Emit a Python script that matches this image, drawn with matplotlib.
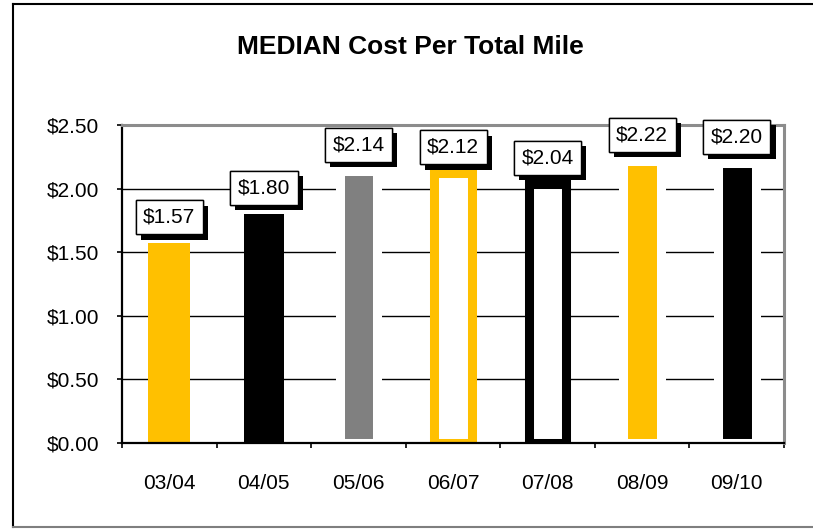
import matplotlib
matplotlib.use("Agg")
import matplotlib.pyplot as plt
import matplotlib.patheffects as pe
from matplotlib.lines import Line2D
import numpy as np

plt.rcParams['font.family'] = ['Liberation Sans', 'DejaVu Sans']

# ---- data ----
categories = ['03/04', '04/05', '05/06', '06/07', '07/08', '08/09', '09/10']
values = [1.57, 1.80, 2.14, 2.12, 2.04, 2.22, 2.20]
title = 'MEDIAN Cost Per Total Mile'
yticks = [0.0, 0.5, 1.0, 1.5, 2.0, 2.5]

# ---- styles (per bar) ----
GOLD = '#FFC000'
GRAY = '#808080'
faces = [GOLD, 'black', GRAY, 'white', 'white', GOLD, 'black']
edges = ['none', 'none', 'white', GOLD, 'black', 'white', 'white']
widths = [0.44, 0.42, 0.40, 0.40, 0.40, 0.40, 0.40]
lws = [0, 0, 6.5, 6.5, 6.5, 6.5, 6.5]

fig = plt.figure(figsize=(8.13, 5.30), dpi=100)
ax = fig.add_axes([122/813, 1-443/530, (784-122)/813, (443-125)/530])

x = np.arange(len(categories))
for i in range(len(categories)):
    ax.bar(x[i], values[i], width=widths[i], color=faces[i],
           edgecolor=edges[i], linewidth=lws[i], zorder=2)

ax.set_xlim(-0.5, len(categories) - 0.5)
ax.set_ylim(0, 2.5)
ax.set_yticks(yticks)
ax.set_yticklabels(['${:.2f}'.format(v) for v in yticks])
ax.set_xticks(x)
ax.set_xticklabels(categories)
ax.set_xticks(np.arange(-0.5, len(categories)), minor=True)

ax.tick_params(axis='y', direction='out', length=3.6, width=1.2, pad=13,
               labelsize=15, colors='black')
ax.tick_params(axis='x', which='major', length=0, pad=22, labelsize=15)
ax.tick_params(axis='x', which='minor', direction='out', length=3.6, width=1.2)

ax.set_axisbelow(True)
ax.yaxis.grid(True, color='black', linewidth=1.0, zorder=0)
ax.xaxis.grid(False)

for s in ['left', 'bottom']:
    ax.spines[s].set_color('black')
    ax.spines[s].set_linewidth(1.6)
    ax.spines[s].set_zorder(5)
for s in ['top', 'right']:
    ax.spines[s].set_color('#8c8c8c')
    ax.spines[s].set_linewidth(2.2)
    ax.spines[s].set_zorder(5)

# value labels
for i, v in enumerate(values):
    t = ax.annotate('${:.2f}'.format(v), xy=(x[i], v), xytext=(0, 26),
                    textcoords='offset pixels', ha='center', va='center',
                    fontsize=15, color='black', zorder=6,
                    bbox=dict(boxstyle='square,pad=0.36', fc='white',
                              ec='black', lw=1.0))
    t.get_bbox_patch().set_path_effects([
        pe.withSimplePatchShadow(offset=(3.8, -3.8), shadow_rgbFace='black',
                                 alpha=1.0),
        pe.Normal()])

fig.text(410/813, 1-47/530, title, ha='center', va='center',
         fontsize=19, fontweight='bold')

# chart-area border
fig.add_artist(Line2D([13/813, 13/813], [1-4/530, 1-527/530],
                      transform=fig.transFigure, color='black', lw=1.5))
fig.add_artist(Line2D([13/813, 1.0], [1-4/530, 1-4/530],
                      transform=fig.transFigure, color='black', lw=1.5))
fig.add_artist(Line2D([13/813, 1.0], [1-527/530, 1-527/530],
                      transform=fig.transFigure, color='#7f7f7f', lw=1.5))

fig.savefig('out.png', dpi=100)
